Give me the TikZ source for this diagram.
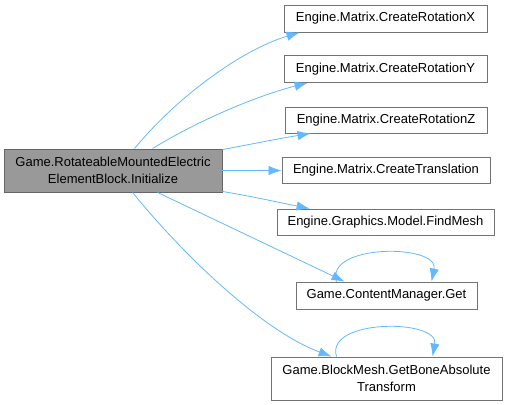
\documentclass[tikz,border=0pt]{standalone}
\usepackage{fontspec}
\setmainfont{Liberation Sans}
\usetikzlibrary{arrows.meta}
\definecolor{edgeblue}{HTML}{63B8FF}
\begin{document}
\begin{tikzpicture}[x=1pt,y=-1pt,
  fn/.style={draw=black!55,fill=white,line width=0.9pt,inner sep=0pt,align=center,font=\fontsize{13}{16.5}\selectfont},
  mainfn/.style={fn,fill=black!40,draw=black!60},
  call/.style={draw=edgeblue,-{Latex[length=13pt,width=9.5pt]},line width=0.8pt}]
\useasboundingbox (0,0) rectangle (507,405);
\node[mainfn,minimum width=218pt,minimum height=43pt] (m) at (113,170.5) {Game.RotateableMountedElectric\\ElementBlock.Initialize};
\node[fn,minimum width=203pt,minimum height=27pt] (rx) at (385.5,18.5) {Engine.Matrix.CreateRotationX};
\node[fn,minimum width=203pt,minimum height=27pt] (ry) at (385.5,69) {Engine.Matrix.CreateRotationY};
\node[fn,minimum width=202pt,minimum height=26pt] (rz) at (386,120) {Engine.Matrix.CreateRotationZ};
\node[fn,minimum width=208pt,minimum height=26pt] (tr) at (386,170.5) {Engine.Matrix.CreateTranslation};
\node[fn,minimum width=217pt,minimum height=26pt] (fm) at (385.5,222) {Engine.Graphics.Model.FindMesh};
\node[fn,minimum width=181pt,minimum height=27pt] (cg) at (386.5,295.5) {Game.ContentManager.Get};
\node[fn,minimum width=231pt,minimum height=43pt] (bt) at (386.5,378.5) {Game.BlockMesh.GetBoneAbsolute\\Transform};
\draw[call] ([xshift=131pt]m.north west) .. controls +(40,-49) and +(-60,18) .. ([xshift=16pt]rx.south west);
\draw[call] ([xshift=149pt]m.north west) .. controls +(47,-29) and +(-48,12) .. ([xshift=24pt]ry.south west);
\draw[call] ([yshift=-1pt]m.north east) .. controls +(27,-5) and +(-31,5) .. ([xshift=26pt]rz.south west);
\draw[call] (m.east) -- (tr.west);
\draw[call] ([yshift=1pt]m.south east) .. controls +(30,5) and +(-30,-6) .. ([xshift=33pt]fm.north west);
\draw[call] ([xshift=154pt]m.south west) -- ([xshift=49pt]cg.north west);
\draw[call] ([xshift=129pt]m.south west) .. controls +(47,58) and +(-72,-27) .. ([xshift=61pt]bt.north west);
\draw[call] ([xshift=41pt]cg.north west) .. controls +(-12,-38) and +(8,-38) .. ([xshift=136pt]cg.north west);
\draw[call] ([xshift=66pt]bt.north west) .. controls +(-12,-38) and +(7,-38) .. ([xshift=162pt]bt.north west);
\end{tikzpicture}
\end{document}
